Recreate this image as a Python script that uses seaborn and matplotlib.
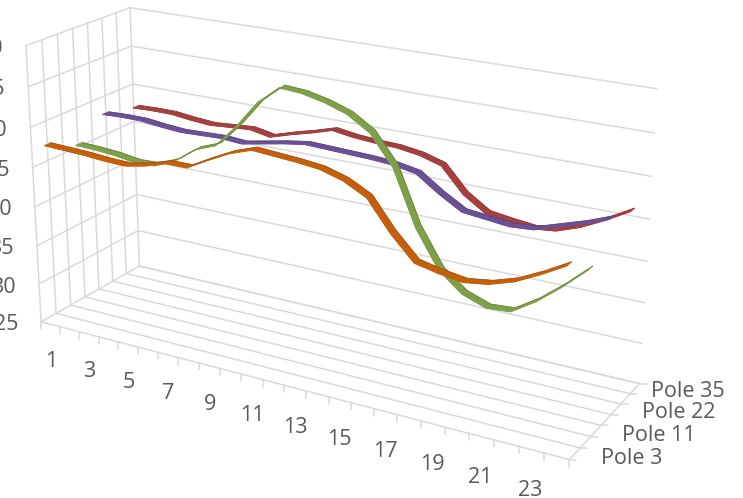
import numpy as np
import pandas as pd
import matplotlib
matplotlib.use("Agg")
import matplotlib.pyplot as plt
import seaborn as sns

hours = list(range(1, 25))
poles = ["Pole 3", "Pole 11", "Pole 22", "Pole 35"]
pole_3 = [47.8, 47.7, 47.6, 47.4, 47.3, 47.8, 48.6, 48.6, 50.0, 51.3, 52.2, 52.0, 51.8, 51.5, 50.7, 49.3, 45.8, 43.0, 42.4, 42.0, 42.4, 43.3, 44.7, 46.3]
pole_11 = [46.1, 46.0, 45.8, 45.4, 45.5, 46.6, 48.5, 49.5, 52.3, 55.6, 57.8, 57.6, 57.0, 56.1, 54.4, 50.9, 44.4, 40.0, 37.8, 36.8, 37.0, 38.8, 41.1, 43.7]
pole_22 = [48.5, 48.6, 48.6, 48.3, 48.1, 48.2, 48.3, 48.1, 48.6, 49.1, 49.5, 49.4, 49.3, 49.2, 49.0, 48.5, 46.6, 45.0, 44.7, 44.4, 44.6, 45.5, 46.4, 47.5]
pole_35 = [47.6, 47.7, 47.7, 47.4, 47.2, 47.4, 47.6, 47.1, 47.9, 48.6, 49.4, 49.0, 48.8, 48.7, 48.3, 47.5, 44.5, 42.7, 42.3, 42.0, 42.3, 43.3, 44.7, 46.3]
value_ticks = [25, 30, 35, 40, 45, 50, 55, 60]
hour_ticks = list(range(1, 24, 2))

colors = {"Pole 3": "#C55F0B", "Pole 11": "#7F9F48", "Pole 22": "#6B5095", "Pole 35": "#A5403F"}
edges = {"Pole 3": "#8A4208", "Pole 11": "#4F6A2A", "Pole 22": "#4B3870", "Pole 35": "#7A2C2C"}
depths = {"Pole 3": 0.06, "Pole 11": 0.35, "Pole 22": 0.62, "Pole 35": 0.93}
grid = "#D9D9D9"
text = "#595959"

# camera for the fake 3d box, fitted on the corners of the box in the picture
corners = [((0, 0, 0), (41.5, 322)), ((0, 0, 1), (26, 45)), ((0, 1, 0), (139, 266)), ((0, 1, 1), (130, 8)),
           ((1, 1, 0), (640, 383)), ((1, 1, 1), (657, 89)), ((1, 0, 0), (569, 460))]
rows = []
for (a, b, c), (px, py) in corners:
    rows.append([a, b, c, 1, 0, 0, 0, 0, -px * a, -px * b, -px * c, -px])
    rows.append([0, 0, 0, 0, a, b, c, 1, -py * a, -py * b, -py * c, -py])
camera = np.linalg.svd(np.array(rows))[2][-1].reshape(3, 4)


def project(u, v, w):
    u, v, w = np.broadcast_arrays(np.asarray(u, float), np.asarray(v, float), np.asarray(w, float))
    h = camera @ np.stack([u.ravel(), v.ravel(), w.ravel(), np.ones(u.size)])
    return h[0] / h[2], h[1] / h[2]


def grid_line(ax, a, b, lw=1.1):
    x, y = project([a[0], b[0]], [a[1], b[1]], [a[2], b[2]])
    ax.plot(x, y, color=grid, lw=lw, solid_capstyle="round", zorder=1)


sns.set_theme(style="white")
plt.rcParams["font.family"] = ["Open Sans", "DejaVu Sans"]

fig = plt.figure(figsize=(7.43, 4.98), dpi=100)
ax = fig.add_axes([0, 0, 1, 1])
ax.set_xlim(0, 743)
ax.set_ylim(498, 0)
ax.axis("off")

# back wall and side wall
for i in range(len(value_ticks)):
    w = i / 7
    grid_line(ax, (0, 1, w), (1, 1, w))
    grid_line(ax, (0, 0, w), (0, 1, w))
for i in range(8):
    v = i / 7
    grid_line(ax, (0, v, 0), (0, v, 1))
    grid_line(ax, (0, v, 0), (1, v, 0))
    x, y = project(1, v, 0)
    ax.plot([x[0], x[0] + 7], [y[0], y[0]], color=grid, lw=1.1, zorder=1)
grid_line(ax, (1, 0, 0), (1, 1, 0))

# ticks on the front edge
for k in range(25):
    x, y = project(k / 24, 0, 0)
    ax.plot([x[0], x[0]], [y[0], y[0] + 7], color=grid, lw=1.1, zorder=1)

# the value labels run off the left edge, same as in the cropped original
for value in value_ticks:
    x, y = project(0, 0, (value - 25) / 35)
    ax.text(x[0] - 23, y[0] + 3, str(value), ha="right", va="center", fontsize=15.5, color=text)
for hour in hour_ticks:
    x, y = project((hour - 0.5) / 24, 0, 0)
    ax.text(x[0] + 1 - (hour / 23) * 2, y[0] + 37 + (hour / 23) * 4, str(hour), ha="center", va="center", fontsize=15.5, color=text)
label_x = [601, 622, 642, 651]
for name, lx, i in zip(poles, label_x, [1, 3, 5, 7]):
    x, y = project(1, i / 7, 0)
    ax.text(lx, y[0] + 8 + (7 - i) * 0.5, name, ha="left", va="center", fontsize=15.5, color=text)

# ribbons, back to front
data = pd.DataFrame({"hour": hours, "Pole 3": pole_3, "Pole 11": pole_11, "Pole 22": pole_22, "Pole 35": pole_35})
half = 0.03
for name in poles[::-1]:
    u = (data["hour"].to_numpy() - 0.5) / 24
    w = (data[name].to_numpy() - 25) / 35
    v = depths[name]
    x1, y1 = project(u, v - half, w)
    x2, y2 = project(u, v + half, w)
    ax.fill(np.r_[x1, x2[::-1]], np.r_[y1, y2[::-1]], color=colors[name], lw=0.6, zorder=3)
    sns.lineplot(x=x1, y=y1, sort=False, estimator=None, color=colors[name], lw=0.8, ax=ax, zorder=3)
    sns.lineplot(x=x2, y=y2, sort=False, estimator=None, color=edges[name], lw=0.5, alpha=0.6, ax=ax, zorder=3)
ax.set_xlabel("")
ax.set_ylabel("")
ax.set_xlim(0, 743)
ax.set_ylim(498, 0)

fig.savefig("out.png", dpi=100)
